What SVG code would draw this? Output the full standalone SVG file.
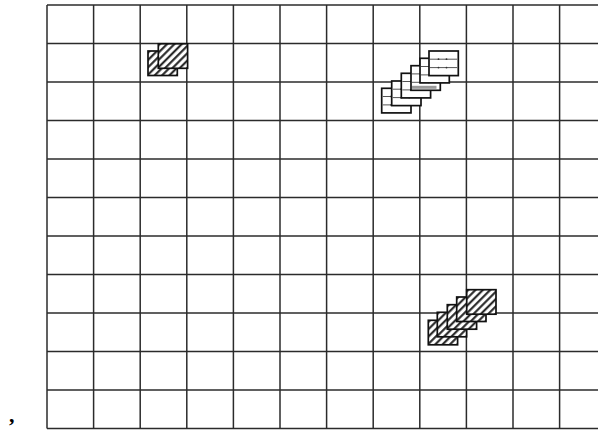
<svg xmlns="http://www.w3.org/2000/svg" width="598" height="430" viewBox="0 0 598 430">
  <defs>
    <pattern id="hatch" width="5.2" height="5.2" patternUnits="userSpaceOnUse" patternTransform="rotate(45)">
      <rect width="5.2" height="5.2" fill="#fff"/>
      <line x1="1.2" y1="0" x2="1.2" y2="5.2" stroke="#1a1a1a" stroke-width="2"/>
    </pattern>
    <g id="hr">
      <rect x="0" y="0" width="29.3" height="24.5" fill="url(#hatch)" stroke="#111" stroke-width="1.7"/>
    </g>
    <g id="sr">
      <rect x="0" y="0" width="29.3" height="24.6" fill="#fff" stroke="#111" stroke-width="1.7"/>
      <line x1="1" y1="8.2" x2="28.3" y2="8.2" stroke="#555" stroke-width="1"/>
      <line x1="1" y1="16.6" x2="28.3" y2="16.6" stroke="#555" stroke-width="1"/>
      <circle cx="9.5" cy="8.2" r="0.9" fill="#333"/>
      <circle cx="17.5" cy="8.2" r="0.9" fill="#333"/>
      <circle cx="9.5" cy="16.6" r="0.9" fill="#333"/>
      <circle cx="17.5" cy="16.6" r="0.9" fill="#333"/>
    </g>
  </defs>
  <style>
    .g line { stroke: #2b2b2b; stroke-width: 1.5; }
    .c { font-family: "Liberation Serif", serif; font-size: 22px; font-weight: bold; fill: #000; }
  </style>
  <rect width="598" height="430" fill="#fff"/>
  <g id="grid" class="g">
    <line x1="47" y1="5" x2="47" y2="428.5"/>
    <line x1="93.6" y1="5" x2="93.6" y2="428.5"/>
    <line x1="140.2" y1="5" x2="140.2" y2="428.5"/>
    <line x1="186.8" y1="5" x2="186.8" y2="428.5"/>
    <line x1="233.4" y1="5" x2="233.4" y2="428.5"/>
    <line x1="280" y1="5" x2="280" y2="428.5"/>
    <line x1="326.6" y1="5" x2="326.6" y2="428.5"/>
    <line x1="373.2" y1="5" x2="373.2" y2="428.5"/>
    <line x1="419.8" y1="5" x2="419.8" y2="428.5"/>
    <line x1="466.4" y1="5" x2="466.4" y2="428.5"/>
    <line x1="513" y1="5" x2="513" y2="428.5"/>
    <line x1="559.6" y1="5" x2="559.6" y2="428.5"/>
    <line x1="47" y1="5" x2="598" y2="5"/>
    <line x1="47" y1="43.5" x2="598" y2="43.5"/>
    <line x1="47" y1="82" x2="598" y2="82"/>
    <line x1="47" y1="120.5" x2="598" y2="120.5"/>
    <line x1="47" y1="159" x2="598" y2="159"/>
    <line x1="47" y1="197.5" x2="598" y2="197.5"/>
    <line x1="47" y1="236" x2="598" y2="236"/>
    <line x1="47" y1="274.5" x2="598" y2="274.5"/>
    <line x1="47" y1="313" x2="598" y2="313"/>
    <line x1="47" y1="351.5" x2="598" y2="351.5"/>
    <line x1="47" y1="390" x2="598" y2="390"/>
    <line x1="47" y1="428.5" x2="598" y2="428.5"/>
  </g>
  <g id="stack-top-left">
    <use href="#hr" x="148" y="51"/>
    <use href="#hr" x="158.3" y="43.8"/>
  </g>
  <g id="stack-top-middle">
    <use href="#sr" x="381.7" y="88.3"/>
    <use href="#sr" x="391.7" y="81"/>
    <use href="#sr" x="401.3" y="73.3"/>
    <use href="#sr" x="411" y="65.7"/>
    <rect x="412" y="85.8" width="24.5" height="3" fill="#999"/>
    <use href="#sr" x="420" y="58.3"/>
    <use href="#sr" x="429" y="51"/>
  </g>
  <g id="stack-bottom-right">
    <use href="#hr" x="428.3" y="320.3"/>
    <use href="#hr" x="437.3" y="312.3"/>
    <use href="#hr" x="447.3" y="304.7"/>
    <use href="#hr" x="456.7" y="297"/>
    <use href="#hr" x="466.7" y="289.7"/>
  </g>
  <text class="c" x="9" y="422">,</text>
</svg>
